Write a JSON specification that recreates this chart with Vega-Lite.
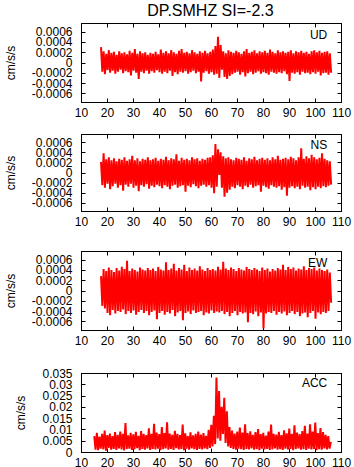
{
"$schema": "https://vega.github.io/schema/vega-lite/v6.json",
"padding": {"left": 3, "top": 3, "right": 0, "bottom": 0},
"background": "white",
"title": {"text": "DP.SMHZ SI=-2.3", "fontSize": 16, "font": "Liberation Sans", "fontWeight": "normal", "color": "#000", "anchor": "middle", "offset": 3, "dx": 33},
"spacing": 10,
"config": {
  "font": "Liberation Sans",
  "view": {"stroke": "#000", "strokeWidth": 1},
  "axis": {"grid": false, "domainColor": "#000", "tickColor": "#000", "labelColor": "#000", "titleColor": "#000", "labelFont": "Liberation Sans", "titleFont": "Liberation Sans", "labelFontSize": 12, "titleFontSize": 12, "titleFontWeight": "normal", "tickSize": -4, "labelFlush": false, "labelOverlap": false}
},
"datasets": {
"ud": [
{"t":17.7,"v":0.0003},{"t":18.2,"v":-0.00018},{"t":18.7,"v":0.00022},{"t":19.2,"v":-0.00023},{"t":19.7,"v":0.00017},{"t":20.2,"v":-0.00015},{"t":20.7,"v":0.00024},{"t":21.2,"v":-0.0002},{"t":21.7,"v":0.00019},{"t":22.2,"v":-0.00016},
{"t":22.7,"v":0.00021},{"t":23.2,"v":-0.00022},{"t":23.7,"v":0.00015},{"t":24.2,"v":-0.00018},{"t":24.7,"v":0.00022},{"t":25.2,"v":-0.00014},{"t":25.7,"v":0.00018},{"t":26.2,"v":-0.00021},{"t":26.7,"v":0.0002},{"t":27.2,"v":-0.00017},
{"t":27.7,"v":0.00016},{"t":28.2,"v":-0.00019},{"t":28.7,"v":0.00023},{"t":29.2,"v":-0.00025},{"t":29.7,"v":0.00019},{"t":30.2,"v":-0.00016},{"t":30.7,"v":0.00026},{"t":31.2,"v":-0.0002},{"t":31.7,"v":0.00017},{"t":32.2,"v":-0.00032},
{"t":32.7,"v":0.00022},{"t":33.2,"v":-0.00018},{"t":33.7,"v":0.00018},{"t":34.2,"v":-0.00021},{"t":34.7,"v":0.0002},{"t":35.2,"v":-0.00016},{"t":35.7,"v":0.00015},{"t":36.2,"v":-0.00022},{"t":36.7,"v":0.00019},{"t":37.2,"v":-0.00017},
{"t":37.7,"v":0.00017},{"t":38.2,"v":-0.0002},{"t":38.7,"v":0.00021},{"t":39.2,"v":-0.00015},{"t":39.7,"v":0.00016},{"t":40.2,"v":-0.00019},{"t":40.7,"v":0.00025},{"t":41.2,"v":-0.00022},{"t":41.7,"v":0.00019},{"t":42.2,"v":-0.00018},
{"t":42.7,"v":0.00022},{"t":43.2,"v":-0.00021},{"t":43.7,"v":0.00018},{"t":44.2,"v":-0.00016},{"t":44.7,"v":0.00024},{"t":45.2,"v":-0.00026},{"t":45.7,"v":0.0002},{"t":46.2,"v":-0.00019},{"t":46.7,"v":0.00017},{"t":47.2,"v":-0.00023},
{"t":47.7,"v":0.00023},{"t":48.2,"v":-0.00018},{"t":48.7,"v":0.00026},{"t":49.2,"v":-0.0002},{"t":49.7,"v":0.00019},{"t":50.2,"v":-0.00017},{"t":50.7,"v":0.00021},{"t":51.2,"v":-0.00022},{"t":51.7,"v":0.00018},{"t":52.2,"v":-0.00019},
{"t":52.7,"v":0.00024},{"t":53.2,"v":-0.00016},{"t":53.7,"v":0.0002},{"t":54.2,"v":-0.00021},{"t":54.7,"v":0.00017},{"t":55.2,"v":-0.00018},{"t":55.7,"v":0.00022},{"t":56.2,"v":-0.00037},{"t":56.7,"v":0.00019},{"t":57.2,"v":-0.0002},
{"t":57.7,"v":0.00023},{"t":58.2,"v":-0.00017},{"t":58.7,"v":0.00018},{"t":59.2,"v":-0.00022},{"t":59.7,"v":0.00021},{"t":60.2,"v":-0.00019},{"t":60.7,"v":0.00025},{"t":61.2,"v":-0.00024},{"t":61.7,"v":0.00032},{"t":62.2,"v":-0.00022},
{"t":62.7,"v":0.0005},{"t":63.2,"v":-0.0003},{"t":63.7,"v":0.00034},{"t":64.2,"v":-0.00014},{"t":64.7,"v":0.00022},{"t":65.2,"v":-0.00028},{"t":65.7,"v":0.00018},{"t":66.2,"v":-0.00032},{"t":66.7,"v":0.00024},{"t":67.2,"v":-0.00026},
{"t":67.7,"v":0.00021},{"t":68.2,"v":-0.00023},{"t":68.7,"v":0.00019},{"t":69.2,"v":-0.0002},{"t":69.7,"v":0.00023},{"t":70.2,"v":-0.00018},{"t":70.7,"v":0.0002},{"t":71.2,"v":-0.00024},{"t":71.7,"v":0.00017},{"t":72.2,"v":-0.00019},
{"t":72.7,"v":0.00022},{"t":73.2,"v":-0.00027},{"t":73.7,"v":0.00026},{"t":74.2,"v":-0.00021},{"t":74.7,"v":0.00019},{"t":75.2,"v":-0.00018},{"t":75.7,"v":0.00021},{"t":76.2,"v":-0.00023},{"t":76.7,"v":0.00024},{"t":77.2,"v":-0.0002},
{"t":77.7,"v":0.00018},{"t":78.2,"v":-0.00017},{"t":78.7,"v":0.00022},{"t":79.2,"v":-0.00022},{"t":79.7,"v":0.0002},{"t":80.2,"v":-0.00019},{"t":80.7,"v":0.00023},{"t":81.2,"v":-0.00021},{"t":81.7,"v":0.00019},{"t":82.2,"v":-0.00024},
{"t":82.7,"v":0.00025},{"t":83.2,"v":-0.00018},{"t":83.7,"v":0.00021},{"t":84.2,"v":-0.0002},{"t":84.7,"v":0.00018},{"t":85.2,"v":-0.00022},{"t":85.7,"v":0.00024},{"t":86.2,"v":-0.00019},{"t":86.7,"v":0.0002},{"t":87.2,"v":-0.00021},
{"t":87.7,"v":0.00022},{"t":88.2,"v":-0.00017},{"t":88.7,"v":0.00019},{"t":89.2,"v":-0.00023},{"t":89.7,"v":0.00021},{"t":90.2,"v":-0.00036},{"t":90.7,"v":0.00024},{"t":91.2,"v":-0.0002},{"t":91.7,"v":0.00018},{"t":92.2,"v":-0.00022},
{"t":92.7,"v":0.00022},{"t":93.2,"v":-0.00019},{"t":93.7,"v":0.0002},{"t":94.2,"v":-0.00024},{"t":94.7,"v":0.00023},{"t":95.2,"v":-0.00018},{"t":95.7,"v":0.00019},{"t":96.2,"v":-0.00021},{"t":96.7,"v":0.00021},{"t":97.2,"v":-0.0002},
{"t":97.7,"v":0.00017},{"t":98.2,"v":-0.00023},{"t":98.7,"v":0.00022},{"t":99.2,"v":-0.00019},{"t":99.7,"v":0.00024},{"t":100.2,"v":-0.00022},{"t":100.7,"v":0.0002},{"t":101.2,"v":-0.00018},{"t":101.7,"v":0.00023},{"t":102.2,"v":-0.00025},
{"t":102.7,"v":0.00019},{"t":103.2,"v":-0.00021},{"t":103.7,"v":0.00021},{"t":104.2,"v":-0.0002},{"t":104.7,"v":0.00022},{"t":105.2,"v":-0.00024},{"t":105.7,"v":0.00018},{"t":106.2,"v":-0.0002}
],
"ns": [
{"t":17.7,"v":0.00021},{"t":18.2,"v":-0.00025},{"t":18.7,"v":0.00038},{"t":19.2,"v":-0.0003},{"t":19.7,"v":0.00026},{"t":20.2,"v":-0.00022},{"t":20.7,"v":0.0003},{"t":21.2,"v":-0.00033},{"t":21.7,"v":0.00024},{"t":22.2,"v":-0.00027},
{"t":22.7,"v":0.00028},{"t":23.2,"v":-0.00022},{"t":23.7,"v":0.00022},{"t":24.2,"v":-0.0003},{"t":24.7,"v":0.00027},{"t":25.2,"v":-0.00025},{"t":25.7,"v":0.00025},{"t":26.2,"v":-0.00036},{"t":26.7,"v":0.0003},{"t":27.2,"v":-0.00024},
{"t":27.7,"v":0.00023},{"t":28.2,"v":-0.00028},{"t":28.7,"v":0.00026},{"t":29.2,"v":-0.00022},{"t":29.7,"v":0.00033},{"t":30.2,"v":-0.0003},{"t":30.7,"v":0.00024},{"t":31.2,"v":-0.00026},{"t":31.7,"v":0.00028},{"t":32.2,"v":-0.00037},
{"t":32.7,"v":0.00022},{"t":33.2,"v":-0.00025},{"t":33.7,"v":0.00027},{"t":34.2,"v":-0.00028},{"t":34.7,"v":0.00025},{"t":35.2,"v":-0.00023},{"t":35.7,"v":0.0003},{"t":36.2,"v":-0.00032},{"t":36.7,"v":0.00024},{"t":37.2,"v":-0.00026},
{"t":37.7,"v":0.00026},{"t":38.2,"v":-0.00029},{"t":38.7,"v":0.00029},{"t":39.2,"v":-0.00024},{"t":39.7,"v":0.00023},{"t":40.2,"v":-0.00027},{"t":40.7,"v":0.00027},{"t":41.2,"v":-0.00031},{"t":41.7,"v":0.00025},{"t":42.2,"v":-0.00025},
{"t":42.7,"v":0.00031},{"t":43.2,"v":-0.00028},{"t":43.7,"v":0.00024},{"t":44.2,"v":-0.00033},{"t":44.7,"v":0.00028},{"t":45.2,"v":-0.00026},{"t":45.7,"v":0.00026},{"t":46.2,"v":-0.00024},{"t":46.7,"v":0.00036},{"t":47.2,"v":-0.0003},
{"t":47.7,"v":0.00023},{"t":48.2,"v":-0.00027},{"t":48.7,"v":0.00029},{"t":49.2,"v":-0.00025},{"t":49.7,"v":0.00025},{"t":50.2,"v":-0.00038},{"t":50.7,"v":0.00027},{"t":51.2,"v":-0.00026},{"t":51.7,"v":0.00024},{"t":52.2,"v":-0.00029},
{"t":52.7,"v":0.0003},{"t":53.2,"v":-0.00023},{"t":53.7,"v":0.00026},{"t":54.2,"v":-0.00027},{"t":54.7,"v":0.00028},{"t":55.2,"v":-0.00031},{"t":55.7,"v":0.00023},{"t":56.2,"v":-0.00026},{"t":56.7,"v":0.00027},{"t":57.2,"v":-0.00024},
{"t":57.7,"v":0.00025},{"t":58.2,"v":-0.00028},{"t":58.7,"v":0.00029},{"t":59.2,"v":-0.00025},{"t":59.7,"v":0.0003},{"t":60.2,"v":-0.0003},{"t":60.7,"v":0.00034},{"t":61.2,"v":-0.00041},{"t":61.7,"v":0.00056},{"t":62.2,"v":-0.00028},
{"t":62.7,"v":0.00046},{"t":63.2,"v":-0.00005},{"t":63.7,"v":0.0004},{"t":64.2,"v":-0.0003},{"t":64.7,"v":0.00032},{"t":65.2,"v":-0.00048},{"t":65.7,"v":0.00028},{"t":66.2,"v":-0.0004},{"t":66.7,"v":0.0003},{"t":67.2,"v":-0.00034},
{"t":67.7,"v":0.00026},{"t":68.2,"v":-0.00028},{"t":68.7,"v":0.00024},{"t":69.2,"v":-0.00031},{"t":69.7,"v":0.00029},{"t":70.2,"v":-0.00025},{"t":70.7,"v":0.00027},{"t":71.2,"v":-0.00028},{"t":71.7,"v":0.00025},{"t":72.2,"v":-0.00033},
{"t":72.7,"v":0.0003},{"t":73.2,"v":-0.00026},{"t":73.7,"v":0.00023},{"t":74.2,"v":-0.00029},{"t":74.7,"v":0.00028},{"t":75.2,"v":-0.00024},{"t":75.7,"v":0.00026},{"t":76.2,"v":-0.0003},{"t":76.7,"v":0.00031},{"t":77.2,"v":-0.00027},
{"t":77.7,"v":0.00024},{"t":78.2,"v":-0.00025},{"t":78.7,"v":0.00027},{"t":79.2,"v":-0.00038},{"t":79.7,"v":0.00029},{"t":80.2,"v":-0.00026},{"t":80.7,"v":0.00025},{"t":81.2,"v":-0.00029},{"t":81.7,"v":0.00028},{"t":82.2,"v":-0.00032},
{"t":82.7,"v":0.00024},{"t":83.2,"v":-0.00025},{"t":83.7,"v":0.0003},{"t":84.2,"v":-0.00028},{"t":84.7,"v":0.00026},{"t":85.2,"v":-0.0003},{"t":85.7,"v":0.00033},{"t":86.2,"v":-0.00027},{"t":86.7,"v":0.00025},{"t":87.2,"v":-0.00034},
{"t":87.7,"v":0.00027},{"t":88.2,"v":-0.00029},{"t":88.7,"v":0.00029},{"t":89.2,"v":-0.00046},{"t":89.7,"v":0.00026},{"t":90.2,"v":-0.0003},{"t":90.7,"v":0.00031},{"t":91.2,"v":-0.00027},{"t":91.7,"v":0.00028},{"t":92.2,"v":-0.00031},
{"t":92.7,"v":0.00024},{"t":93.2,"v":-0.00028},{"t":93.7,"v":0.0003},{"t":94.2,"v":-0.00033},{"t":94.7,"v":0.00048},{"t":95.2,"v":-0.00026},{"t":95.7,"v":0.00027},{"t":96.2,"v":-0.0003},{"t":96.7,"v":0.00032},{"t":97.2,"v":-0.00028},
{"t":97.7,"v":0.00028},{"t":98.2,"v":-0.00035},{"t":98.7,"v":0.00035},{"t":99.2,"v":-0.00029},{"t":99.7,"v":0.0003},{"t":100.2,"v":-0.00033},{"t":100.7,"v":0.00026},{"t":101.2,"v":-0.00028},{"t":101.7,"v":0.00029},{"t":102.2,"v":-0.00031},
{"t":102.7,"v":0.00038},{"t":103.2,"v":-0.00027},{"t":103.7,"v":0.00027},{"t":104.2,"v":-0.00029},{"t":104.7,"v":0.00024},{"t":105.2,"v":-0.00026},{"t":105.7,"v":0.00022},{"t":106.2,"v":-0.00024}
],
"ew": [
{"t":17.7,"v":0.00028},{"t":18.2,"v":-0.0003},{"t":18.7,"v":0.00042},{"t":19.2,"v":-0.00035},{"t":19.7,"v":0.00038},{"t":20.2,"v":-0.00044},{"t":20.7,"v":0.00045},{"t":21.2,"v":-0.00048},{"t":21.7,"v":0.0004},{"t":22.2,"v":-0.00038},
{"t":22.7,"v":0.00036},{"t":23.2,"v":-0.00045},{"t":23.7,"v":0.00044},{"t":24.2,"v":-0.0004},{"t":24.7,"v":0.00039},{"t":25.2,"v":-0.00042},{"t":25.7,"v":0.00046},{"t":26.2,"v":-0.00037},{"t":26.7,"v":0.00042},{"t":27.2,"v":-0.00046},
{"t":27.7,"v":0.00058},{"t":28.2,"v":-0.0004},{"t":28.7,"v":0.00038},{"t":29.2,"v":-0.00044},{"t":29.7,"v":0.00043},{"t":30.2,"v":-0.00039},{"t":30.7,"v":0.0004},{"t":31.2,"v":-0.00047},{"t":31.7,"v":0.00037},{"t":32.2,"v":-0.00042},
{"t":32.7,"v":0.00045},{"t":33.2,"v":-0.00038},{"t":33.7,"v":0.00041},{"t":34.2,"v":-0.00044},{"t":34.7,"v":0.00039},{"t":35.2,"v":-0.0004},{"t":35.7,"v":0.00044},{"t":36.2,"v":-0.00048},{"t":36.7,"v":0.0004},{"t":37.2,"v":-0.00042},
{"t":37.7,"v":0.00043},{"t":38.2,"v":-0.00039},{"t":38.7,"v":0.00038},{"t":39.2,"v":-0.00056},{"t":39.7,"v":0.00046},{"t":40.2,"v":-0.00044},{"t":40.7,"v":0.00041},{"t":41.2,"v":-0.0004},{"t":41.7,"v":0.00039},{"t":42.2,"v":-0.00047},
{"t":42.7,"v":0.00055},{"t":43.2,"v":-0.00042},{"t":43.7,"v":0.0004},{"t":44.2,"v":-0.00045},{"t":44.7,"v":0.00043},{"t":45.2,"v":-0.00038},{"t":45.7,"v":0.00052},{"t":46.2,"v":-0.0005},{"t":46.7,"v":0.00039},{"t":47.2,"v":-0.00043},
{"t":47.7,"v":0.00044},{"t":48.2,"v":-0.0004},{"t":48.7,"v":0.00041},{"t":49.2,"v":-0.00058},{"t":49.7,"v":0.0005},{"t":50.2,"v":-0.00044},{"t":50.7,"v":0.00038},{"t":51.2,"v":-0.00041},{"t":51.7,"v":0.00045},{"t":52.2,"v":-0.00046},
{"t":52.7,"v":0.0004},{"t":53.2,"v":-0.00039},{"t":53.7,"v":0.00043},{"t":54.2,"v":-0.00044},{"t":54.7,"v":0.00039},{"t":55.2,"v":-0.00042},{"t":55.7,"v":0.00047},{"t":56.2,"v":-0.0004},{"t":56.7,"v":0.00041},{"t":57.2,"v":-0.00048},
{"t":57.7,"v":0.00038},{"t":58.2,"v":-0.00043},{"t":58.7,"v":0.00044},{"t":59.2,"v":-0.00045},{"t":59.7,"v":0.0004},{"t":60.2,"v":-0.00039},{"t":60.7,"v":0.00042},{"t":61.2,"v":-0.00044},{"t":61.7,"v":0.00039},{"t":62.2,"v":-0.00041},
{"t":62.7,"v":0.00046},{"t":63.2,"v":-0.00043},{"t":63.7,"v":0.00041},{"t":64.2,"v":-0.0004},{"t":64.7,"v":0.00056},{"t":65.2,"v":-0.00046},{"t":65.7,"v":0.00043},{"t":66.2,"v":-0.00042},{"t":66.7,"v":0.0004},{"t":67.2,"v":-0.0005},
{"t":67.7,"v":0.00045},{"t":68.2,"v":-0.00044},{"t":68.7,"v":0.00042},{"t":69.2,"v":-0.0004},{"t":69.7,"v":0.00038},{"t":70.2,"v":-0.00048},{"t":70.7,"v":0.00044},{"t":71.2,"v":-0.00042},{"t":71.7,"v":0.00041},{"t":72.2,"v":-0.00045},
{"t":72.7,"v":0.00039},{"t":73.2,"v":-0.00043},{"t":73.7,"v":0.00046},{"t":74.2,"v":-0.00062},{"t":74.7,"v":0.00042},{"t":75.2,"v":-0.00044},{"t":75.7,"v":0.0004},{"t":76.2,"v":-0.00046},{"t":76.7,"v":0.00044},{"t":77.2,"v":-0.00041},
{"t":77.7,"v":0.00041},{"t":78.2,"v":-0.0005},{"t":78.7,"v":0.00038},{"t":79.2,"v":-0.00043},{"t":79.7,"v":0.00045},{"t":80.2,"v":-0.00074},{"t":80.7,"v":0.0004},{"t":81.2,"v":-0.00045},{"t":81.7,"v":0.00043},{"t":82.2,"v":-0.00042},
{"t":82.7,"v":0.00037},{"t":83.2,"v":-0.00044},{"t":83.7,"v":0.00042},{"t":84.2,"v":-0.0004},{"t":84.7,"v":0.00039},{"t":85.2,"v":-0.00047},{"t":85.7,"v":0.00044},{"t":86.2,"v":-0.00042},{"t":86.7,"v":0.00041},{"t":87.2,"v":-0.00045},
{"t":87.7,"v":0.0005},{"t":88.2,"v":-0.00041},{"t":88.7,"v":0.0004},{"t":89.2,"v":-0.00048},{"t":89.7,"v":0.00046},{"t":90.2,"v":-0.00044},{"t":90.7,"v":0.00042},{"t":91.2,"v":-0.0004},{"t":91.7,"v":0.00045},{"t":92.2,"v":-0.00046},
{"t":92.7,"v":0.00039},{"t":93.2,"v":-0.00042},{"t":93.7,"v":0.00043},{"t":94.2,"v":-0.0005},{"t":94.7,"v":0.00041},{"t":95.2,"v":-0.00045},{"t":95.7,"v":0.00047},{"t":96.2,"v":-0.00043},{"t":96.7,"v":0.0004},{"t":97.2,"v":-0.00052},
{"t":97.7,"v":0.00044},{"t":98.2,"v":-0.00044},{"t":98.7,"v":0.00042},{"t":99.2,"v":-0.0004},{"t":99.7,"v":0.00045},{"t":100.2,"v":-0.00055},{"t":100.7,"v":0.00039},{"t":101.2,"v":-0.00043},{"t":101.7,"v":0.00043},{"t":102.2,"v":-0.00046},
{"t":102.7,"v":0.0004},{"t":103.2,"v":-0.00042},{"t":103.7,"v":0.00038},{"t":104.2,"v":-0.00044},{"t":104.7,"v":0.00041},{"t":105.2,"v":-0.0004},{"t":105.7,"v":0.00035},{"t":106.2,"v":-0.00024}
],
"acc": [
{"t":15.1,"v":0.007},{"t":15.6,"v":0.001},{"t":16.1,"v":0.0085},{"t":16.6,"v":0.0008},{"t":17.1,"v":0.0068},{"t":17.6,"v":0.0015},{"t":18.1,"v":0.008},{"t":18.6,"v":0.0012},{"t":19.1,"v":0.0095},{"t":19.6,"v":0.0006},
{"t":20.1,"v":0.0075},{"t":20.6,"v":0.0018},{"t":21.1,"v":0.0082},{"t":21.6,"v":0.001},{"t":22.1,"v":0.007},{"t":22.6,"v":0.0014},{"t":23.1,"v":0.0088},{"t":23.6,"v":0.0009},{"t":24.1,"v":0.0076},{"t":24.6,"v":0.0016},
{"t":25.1,"v":0.009},{"t":25.6,"v":0.0011},{"t":26.1,"v":0.008},{"t":26.6,"v":0.0007},{"t":27.1,"v":0.0128},{"t":27.6,"v":0.0013},{"t":28.1,"v":0.0074},{"t":28.6,"v":0.0015},{"t":29.1,"v":0.0085},{"t":29.6,"v":0.0009},
{"t":30.1,"v":0.0078},{"t":30.6,"v":0.0012},{"t":31.1,"v":0.0089},{"t":31.6,"v":0.0017},{"t":32.1,"v":0.0072},{"t":32.6,"v":0.0008},{"t":33.1,"v":0.0093},{"t":33.6,"v":0.0014},{"t":34.1,"v":0.0081},{"t":34.6,"v":0.001},
{"t":35.1,"v":0.0075},{"t":35.6,"v":0.0016},{"t":36.1,"v":0.0105},{"t":36.6,"v":0.0009},{"t":37.1,"v":0.008},{"t":37.6,"v":0.0013},{"t":38.1,"v":0.0125},{"t":38.6,"v":0.0011},{"t":39.1,"v":0.0086},{"t":39.6,"v":0.0015},
{"t":40.1,"v":0.0079},{"t":40.6,"v":0.0008},{"t":41.1,"v":0.011},{"t":41.6,"v":0.0012},{"t":42.1,"v":0.0084},{"t":42.6,"v":0.0016},{"t":43.1,"v":0.0132},{"t":43.6,"v":0.001},{"t":44.1,"v":0.0082},{"t":44.6,"v":0.0014},
{"t":45.1,"v":0.0076},{"t":45.6,"v":0.0009},{"t":46.1,"v":0.0094},{"t":46.6,"v":0.0017},{"t":47.1,"v":0.008},{"t":47.6,"v":0.0011},{"t":48.1,"v":0.0075},{"t":48.6,"v":0.0013},{"t":49.1,"v":0.0122},{"t":49.6,"v":0.0008},
{"t":50.1,"v":0.0083},{"t":50.6,"v":0.0015},{"t":51.1,"v":0.0071},{"t":51.6,"v":0.001},{"t":52.1,"v":0.0087},{"t":52.6,"v":0.0016},{"t":53.1,"v":0.0074},{"t":53.6,"v":0.0012},{"t":54.1,"v":0.0081},{"t":54.6,"v":0.0009},
{"t":55.1,"v":0.009},{"t":55.6,"v":0.0014},{"t":56.1,"v":0.0077},{"t":56.6,"v":0.0011},{"t":57.1,"v":0.0084},{"t":57.6,"v":0.0016},{"t":58.1,"v":0.0072},{"t":58.6,"v":0.0013},{"t":59.1,"v":0.0098},{"t":59.6,"v":0.0018},
{"t":60.1,"v":0.012},{"t":60.6,"v":0.0025},{"t":61.1,"v":0.016},{"t":61.6,"v":0.0035},{"t":62.1,"v":0.033},{"t":62.6,"v":0.006},{"t":63.1,"v":0.027},{"t":63.6,"v":0.005},{"t":64.1,"v":0.02},{"t":64.6,"v":0.008},
{"t":65.1,"v":0.024},{"t":65.6,"v":0.004},{"t":66.1,"v":0.018},{"t":66.6,"v":0.0025},{"t":67.1,"v":0.011},{"t":67.6,"v":0.0018},{"t":68.1,"v":0.0095},{"t":68.6,"v":0.0014},{"t":69.1,"v":0.0082},{"t":69.6,"v":0.001},
{"t":70.1,"v":0.009},{"t":70.6,"v":0.0015},{"t":71.1,"v":0.0108},{"t":71.6,"v":0.0012},{"t":72.1,"v":0.0086},{"t":72.6,"v":0.0009},{"t":73.1,"v":0.0123},{"t":73.6,"v":0.0014},{"t":74.1,"v":0.0084},{"t":74.6,"v":0.0011},
{"t":75.1,"v":0.0092},{"t":75.6,"v":0.0016},{"t":76.1,"v":0.0076},{"t":76.6,"v":0.001},{"t":77.1,"v":0.0088},{"t":77.6,"v":0.0013},{"t":78.1,"v":0.0102},{"t":78.6,"v":0.0008},{"t":79.1,"v":0.0079},{"t":79.6,"v":0.0015},
{"t":80.1,"v":0.0085},{"t":80.6,"v":0.0011},{"t":81.1,"v":0.0073},{"t":81.6,"v":0.0014},{"t":82.1,"v":0.0091},{"t":82.6,"v":0.0009},{"t":83.1,"v":0.0122},{"t":83.6,"v":0.0012},{"t":84.1,"v":0.008},{"t":84.6,"v":0.0016},
{"t":85.1,"v":0.0077},{"t":85.6,"v":0.001},{"t":86.1,"v":0.0089},{"t":86.6,"v":0.0013},{"t":87.1,"v":0.0075},{"t":87.6,"v":0.0009},{"t":88.1,"v":0.0096},{"t":88.6,"v":0.0015},{"t":89.1,"v":0.0083},{"t":89.6,"v":0.0011},
{"t":90.1,"v":0.0104},{"t":90.6,"v":0.0014},{"t":91.1,"v":0.0081},{"t":91.6,"v":0.0008},{"t":92.1,"v":0.0118},{"t":92.6,"v":0.0013},{"t":93.1,"v":0.0086},{"t":93.6,"v":0.0016},{"t":94.1,"v":0.0079},{"t":94.6,"v":0.001},
{"t":95.1,"v":0.0093},{"t":95.6,"v":0.0012},{"t":96.1,"v":0.0116},{"t":96.6,"v":0.0009},{"t":97.1,"v":0.0082},{"t":97.6,"v":0.0015},{"t":98.1,"v":0.0123},{"t":98.6,"v":0.0011},{"t":99.1,"v":0.009},{"t":99.6,"v":0.0014},
{"t":100.1,"v":0.013},{"t":100.6,"v":0.0008},{"t":101.1,"v":0.0084},{"t":101.6,"v":0.0013},{"t":102.1,"v":0.0106},{"t":102.6,"v":0.001},{"t":103.1,"v":0.0088},{"t":103.6,"v":0.0016},{"t":104.1,"v":0.0076},{"t":104.6,"v":0.0012},
{"t":105.1,"v":0.007},{"t":105.6,"v":0.0015},{"t":106.1,"v":0.0045}
]
},
"vconcat": [
{
  "width": 260, "height": 79,
  "data": {"name": "ud"},
  "resolve": {"axis": {"x": "independent", "y": "independent"}},
  "layer": [
    {"mark": {"type": "line", "color": "#ff0000", "strokeWidth": 2, "strokeJoin": "bevel"},
     "encoding": {
       "x": {"field": "t", "type": "quantitative", "scale": {"domain": [10, 110], "nice": false}, "axis": {"orient": "bottom", "values": [10,20,30,40,50,60,70,80,90,100,110], "labelPadding": 9, "title": null, "minExtent": 20}},
       "y": {"field": "v", "type": "quantitative", "scale": {"domain": [-0.00077, 0.00077], "nice": false, "zero": false}, "axis": {"orient": "left", "values": [-0.0006,-0.0004,-0.0002,0,0.0002,0.0004,0.0006], "labelExpr": "datum.value + ''", "labelPadding": 13, "title": "cm/s/s", "titlePadding": 14}}
     }},
    {"data": {"values": [{"t": 104.7, "v": 0.00054, "label": "UD"}]},
     "mark": {"type": "text", "align": "right", "baseline": "middle", "fontSize": 12, "color": "#000"},
     "encoding": {
       "x": {"field": "t", "type": "quantitative", "scale": {"domain": [10, 110], "nice": false}, "axis": {"orient": "top", "values": [10,20,30,40,50,60,70,80,90,100,110], "labels": false, "title": null}},
       "y": {"field": "v", "type": "quantitative", "scale": {"domain": [-0.00077, 0.00077], "nice": false, "zero": false}, "axis": {"orient": "right", "values": [-0.0006,-0.0004,-0.0002,0,0.0002,0.0004,0.0006], "labels": false, "title": null}},
       "text": {"field": "label"}
     }}
  ]
},
{
  "width": 260, "height": 77,
  "data": {"name": "ns"},
  "resolve": {"axis": {"x": "independent", "y": "independent"}},
  "layer": [
    {"mark": {"type": "line", "color": "#ff0000", "strokeWidth": 2, "strokeJoin": "bevel"},
     "encoding": {
       "x": {"field": "t", "type": "quantitative", "scale": {"domain": [10, 110], "nice": false}, "axis": {"orient": "bottom", "values": [10,20,30,40,50,60,70,80,90,100,110], "labelPadding": 9, "title": null, "minExtent": 28}},
       "y": {"field": "v", "type": "quantitative", "scale": {"domain": [-0.00076, 0.00076], "nice": false, "zero": false}, "axis": {"orient": "left", "values": [-0.0006,-0.0004,-0.0002,0,0.0002,0.0004,0.0006], "labelExpr": "datum.value + ''", "labelPadding": 13, "title": "cm/s/s", "titlePadding": 14}}
     }},
    {"data": {"values": [{"t": 104.7, "v": 0.00054, "label": "NS"}]},
     "mark": {"type": "text", "align": "right", "baseline": "middle", "fontSize": 12, "color": "#000"},
     "encoding": {
       "x": {"field": "t", "type": "quantitative", "scale": {"domain": [10, 110], "nice": false}, "axis": {"orient": "top", "values": [10,20,30,40,50,60,70,80,90,100,110], "labels": false, "title": null}},
       "y": {"field": "v", "type": "quantitative", "scale": {"domain": [-0.00076, 0.00076], "nice": false, "zero": false}, "axis": {"orient": "right", "values": [-0.0006,-0.0004,-0.0002,0,0.0002,0.0004,0.0006], "labels": false, "title": null}},
       "text": {"field": "label"}
     }}
  ]
},
{
  "width": 260, "height": 79,
  "data": {"name": "ew"},
  "resolve": {"axis": {"x": "independent", "y": "independent"}},
  "layer": [
    {"mark": {"type": "line", "color": "#ff0000", "strokeWidth": 2, "strokeJoin": "bevel"},
     "encoding": {
       "x": {"field": "t", "type": "quantitative", "scale": {"domain": [10, 110], "nice": false}, "axis": {"orient": "bottom", "values": [10,20,30,40,50,60,70,80,90,100,110], "labelPadding": 9, "title": null, "minExtent": 25}},
       "y": {"field": "v", "type": "quantitative", "scale": {"domain": [-0.00077, 0.00077], "nice": false, "zero": false}, "axis": {"orient": "left", "values": [-0.0006,-0.0004,-0.0002,0,0.0002,0.0004,0.0006], "labelExpr": "datum.value + ''", "labelPadding": 13, "title": "cm/s/s", "titlePadding": 14}}
     }},
    {"data": {"values": [{"t": 104.7, "v": 0.00053, "label": "EW"}]},
     "mark": {"type": "text", "align": "right", "baseline": "middle", "fontSize": 12, "color": "#000"},
     "encoding": {
       "x": {"field": "t", "type": "quantitative", "scale": {"domain": [10, 110], "nice": false}, "axis": {"orient": "top", "values": [10,20,30,40,50,60,70,80,90,100,110], "labels": false, "title": null}},
       "y": {"field": "v", "type": "quantitative", "scale": {"domain": [-0.00077, 0.00077], "nice": false, "zero": false}, "axis": {"orient": "right", "values": [-0.0006,-0.0004,-0.0002,0,0.0002,0.0004,0.0006], "labels": false, "title": null}},
       "text": {"field": "label"}
     }}
  ]
},
{
  "width": 260, "height": 79,
  "data": {"name": "acc"},
  "resolve": {"axis": {"x": "independent", "y": "independent"}},
  "layer": [
    {"mark": {"type": "line", "color": "#ff0000", "strokeWidth": 2, "strokeJoin": "bevel"},
     "encoding": {
       "x": {"field": "t", "type": "quantitative", "scale": {"domain": [10, 110], "nice": false}, "axis": {"orient": "bottom", "values": [10,20,30,40,50,60,70,80,90,100,110], "labelPadding": 9, "title": null}},
       "y": {"field": "v", "type": "quantitative", "scale": {"domain": [0, 0.035], "nice": false, "zero": false}, "axis": {"orient": "left", "values": [0,0.005,0.01,0.015,0.02,0.025,0.03,0.035], "labelExpr": "datum.value + ''", "labelPadding": 13, "title": "cm/s/s", "titlePadding": 14}}
     }},
    {"data": {"values": [{"t": 104.7, "v": 0.0305, "label": "ACC"}]},
     "mark": {"type": "text", "align": "right", "baseline": "middle", "fontSize": 12, "color": "#000"},
     "encoding": {
       "x": {"field": "t", "type": "quantitative", "scale": {"domain": [10, 110], "nice": false}, "axis": {"orient": "top", "values": [10,20,30,40,50,60,70,80,90,100,110], "labels": false, "title": null}},
       "y": {"field": "v", "type": "quantitative", "scale": {"domain": [0, 0.035], "nice": false, "zero": false}, "axis": {"orient": "right", "values": [0,0.005,0.01,0.015,0.02,0.025,0.03,0.035], "labels": false, "title": null}},
       "text": {"field": "label"}
     }}
  ]
}
]
}
